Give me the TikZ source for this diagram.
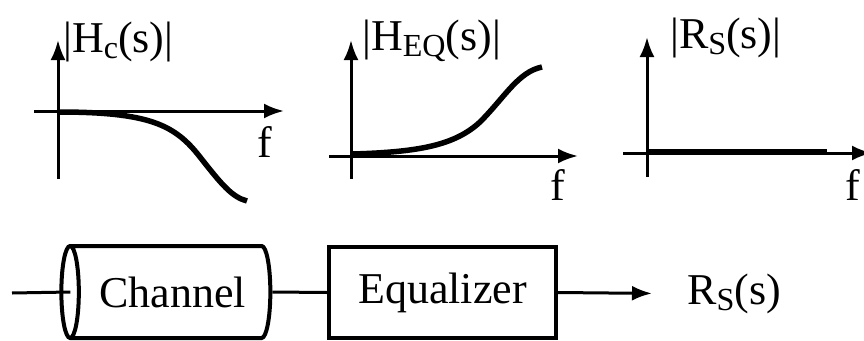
\documentclass[tikz,border=0pt]{standalone}
\usepackage{fontspec}
\setmainfont{Liberation Serif}
\usetikzlibrary{arrows.meta,shapes.geometric,positioning}
\newcommand{\lowsub}[1]{\raisebox{-0.15em}{\scalebox{0.73}{#1}}}

\begin{document}
\begin{tikzpicture}[x=1pt, y=-1pt, >={Latex[length=20pt,width=15pt]},
    axis/.style={line width=3pt, ->},
    resp/.style={line width=5.5pt},
    lbl/.style={font=\fontsize{44}{44}\selectfont, inner sep=0pt},
    blocktxt/.style={font=\fontsize{44}{44}\selectfont},
    wire/.style={line width=3pt},
    block/.style={draw, line width=4pt, inner sep=2pt, blocktxt}]
    \clip (0,0) rectangle (864,340);

    \draw[axis] (58,179) -- (58,40);
    \draw[axis] (34,111) -- (284,111);
    \draw[resp] (58,112) .. controls (150,112) and (175,125) .. (200,157) .. controls (222,185) and (232,197) .. (247,201);
    \node[lbl, anchor=base west] (hc) at (63,52) {|H\lowsub{c}(s)|};
    \node[lbl, anchor=base west] (f1) at (257,157) {f};

    \draw[axis] (351,179) -- (351,40);
    \draw[axis] (329,156) -- (578,156);
    \draw[resp] (353,154) .. controls (420,152) and (455,145) .. (480,122) .. controls (505,97) and (518,72) .. (542,67);
    \node[lbl, anchor=base west] (heq) at (362,50) {|H\lowsub{EQ}(s)|};
    \node[lbl, anchor=base west] (f2) at (550,200) {f};

    \draw[axis] (647,177) -- (647,37);
    \draw[axis] (623,153) -- (872,153);
    \draw[resp] (647,152) -- (827,152);
    \node[lbl, anchor=base west] (rs) at (670,48) {|R\lowsub{S}(s)|};
    \node[lbl, anchor=base west] (f3) at (845,200) {f};

    \coordinate (in) at (12,293);
    \node[block, cylinder, shape border rotate=180, aspect=0.5, minimum height=209pt, minimum width=92pt] (ch) at (172.5,292) {Channel};
    \node[block, minimum width=227pt, minimum height=91pt] (eq) at (442.5,292.5) {Equalizer};
    \node[blocktxt, inner sep=0pt, anchor=base west] (out) at (687,304) {R\lowsub{S}(s)};

    \draw[wire] (in) -- ([xshift=11pt]ch.west);
    \draw[wire] (ch.east) -- (eq.west);
    \draw[wire, ->] (eq.east) -- ([xshift=-35pt]out.west);
\end{tikzpicture}
\end{document}
